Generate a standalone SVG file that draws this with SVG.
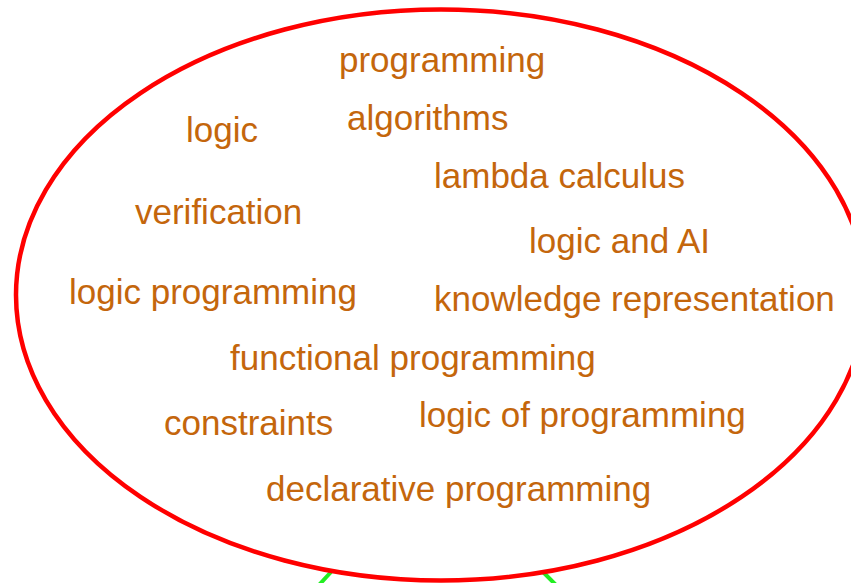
<svg xmlns="http://www.w3.org/2000/svg" width="851" height="583" viewBox="0 0 851 583">
<style>
.t{font-family:"Liberation Sans",Arial,sans-serif;font-size:35px;fill:#c4660c}
.c{stroke:#22ee22;stroke-width:4;fill:none}
</style>
<rect width="851" height="583" fill="#fff"/>
<g id="connectors">
<line class="c" x1="331" y1="572" x2="319" y2="585"/>
<line class="c" x1="543" y1="572" x2="556" y2="585"/>
</g>
<g id="topic-ellipse">
<ellipse cx="441" cy="295" rx="425" ry="285.5" fill="none" stroke="#ff0000" stroke-width="4.5"/>
</g>
<g id="terms">
<text class="t" x="339" y="72">programming</text>
<text class="t" x="347" y="130">algorithms</text>
<text class="t" x="186" y="142">logic</text>
<text class="t" x="434" y="188">lambda calculus</text>
<text class="t" x="135" y="224">verification</text>
<text class="t" x="529" y="253">logic and AI</text>
<text class="t" x="69" y="304">logic programming</text>
<text class="t" x="434" y="311">knowledge representation</text>
<text class="t" x="230" y="370">functional programming</text>
<text class="t" x="419" y="427">logic of programming</text>
<text class="t" x="164" y="435">constraints</text>
<text class="t" x="266" y="501">declarative programming</text>
</g>
</svg>
